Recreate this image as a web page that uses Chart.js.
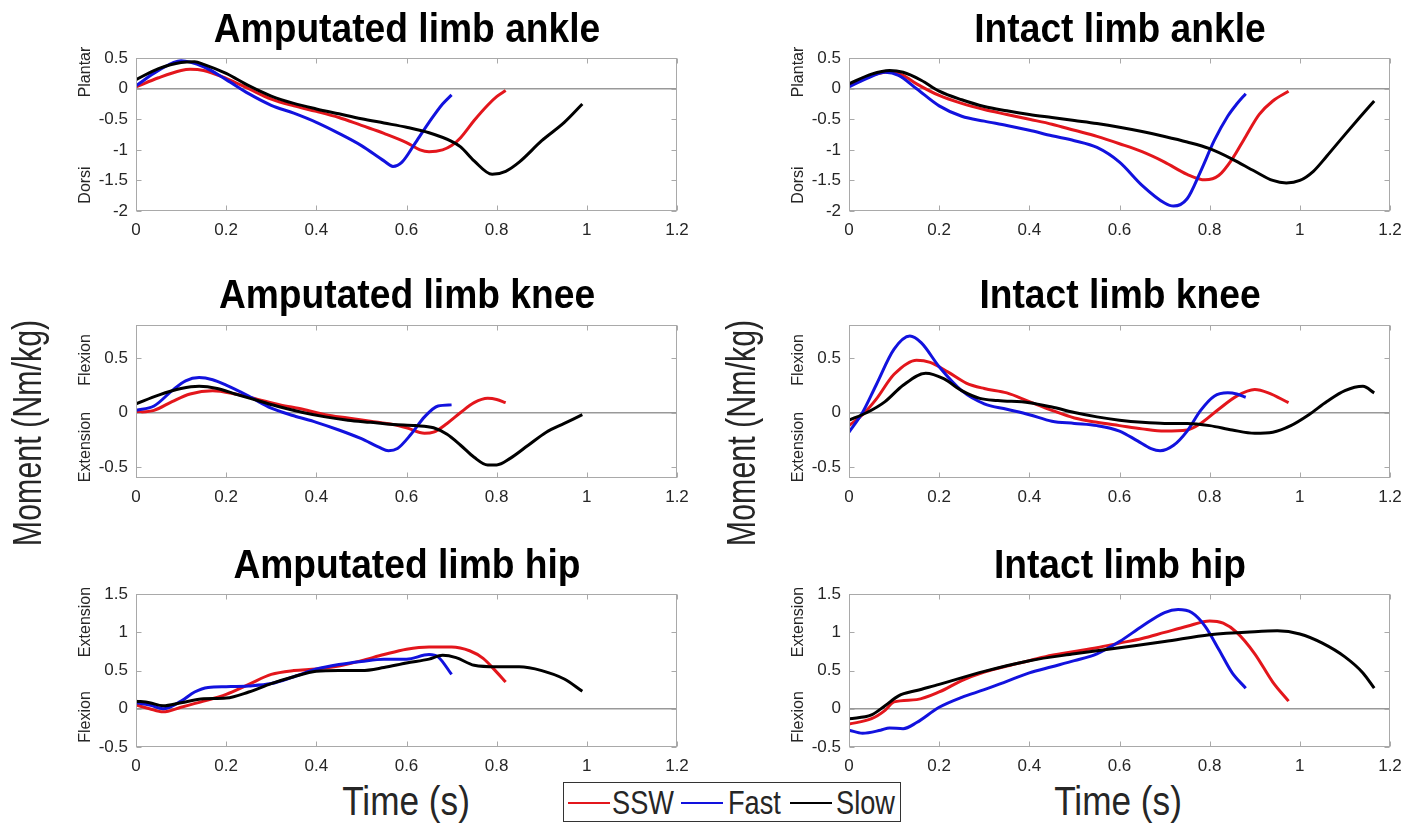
<!DOCTYPE html>
<html>
<head>
<meta charset="utf-8">
<script src="https://cdn.jsdelivr.net/npm/chart.js@4.4.0/dist/chart.umd.min.js"></script>
<style>
  body { margin: 0; background: #fff; width: 1419px; height: 825px; position: relative; overflow: hidden;
         font-family: "Liberation Sans", Arial, sans-serif; }
  .pane { position: absolute; }
  .ttl { position: absolute; font-weight: bold; font-size: 40px; line-height: 1; white-space: nowrap; color: #000;
         transform: translate(-50%, -50%) scaleX(0.93); }
  .side { position: absolute; font-size: 16px; line-height: 1; color: #262626; white-space: nowrap;
          transform: translate(-50%, -50%) rotate(-90deg); }
  .big { position: absolute; font-size: 40px; line-height: 1; color: #262626; white-space: nowrap;
         transform: translate(-50%, -50%) scaleX(0.88); }
  .big.rot { transform: translate(-50%, -50%) rotate(-90deg) scaleX(0.76); }
  #legend { position: absolute; left: 563px; top: 782px; width: 338px; height: 40px; border: 1px solid #333;
            background: #fff; box-sizing: border-box; }
  #legend .sw { position: absolute; top: 19px; width: 42px; height: 2px; }
  #legend .lt { position: absolute; top: 2px; font-size: 34px; line-height: 34px; color: #262626;
                white-space: nowrap; transform: scaleX(0.8); transform-origin: 0 50%; }
</style>
</head>
<body>
<div id="root"></div>
<div id="legend"></div>
<script>
// ---------- data (s, Nm/kg) ----------
const SERIES_NAMES = ["SSW", "Fast", "Slow"];
const SERIES_COLORS = ["#e3161c", "#1212de", "#000000"];

const X_TICKS = [0, 0.2, 0.4, 0.6, 0.8, 1, 1.2];
const ANKLE_Y_TICKS = [-2, -1.5, -1, -0.5, 0, 0.5];
const KNEE_Y_TICKS = [-0.5, 0, 0.5];
const HIP_Y_TICKS = [-0.5, 0, 0.5, 1, 1.5];

// Amputated limb ankle
const ampAnkleSswT = [0, 0.05, 0.1, 0.12, 0.15, 0.2, 0.25, 0.3, 0.35, 0.4, 0.45, 0.5, 0.55, 0.6, 0.63, 0.65, 0.68, 0.7, 0.72, 0.75, 0.78, 0.8, 0.82];
const ampAnkleSsw  = [0.03, 0.18, 0.3, 0.32, 0.3, 0.17, 0.0, -0.17, -0.28, -0.37, -0.47, -0.6, -0.73, -0.88, -1.0, -1.03, -1.0, -0.93, -0.8, -0.52, -0.27, -0.13, -0.03];
const ampAnkleFastT = [0, 0.05, 0.1, 0.15, 0.2, 0.25, 0.3, 0.35, 0.4, 0.45, 0.5, 0.55, 0.57, 0.59, 0.62, 0.65, 0.68, 0.7];
const ampAnkleFast  = [0.05, 0.3, 0.46, 0.36, 0.15, -0.08, -0.27, -0.4, -0.55, -0.73, -0.93, -1.18, -1.27, -1.2, -0.88, -0.55, -0.25, -0.1];
const ampAnkleSlowT = [0, 0.05, 0.1, 0.13, 0.15, 0.2, 0.25, 0.3, 0.35, 0.4, 0.45, 0.5, 0.55, 0.6, 0.65, 0.7, 0.72, 0.75, 0.79, 0.82, 0.85, 0.9, 0.95, 0.99];
const ampAnkleSlow  = [0.15, 0.33, 0.43, 0.44, 0.4, 0.25, 0.05, -0.12, -0.24, -0.33, -0.41, -0.49, -0.56, -0.63, -0.72, -0.86, -0.95, -1.18, -1.4, -1.35, -1.2, -0.85, -0.55, -0.25];

// Intact limb ankle
const intAnkleSswT = [0, 0.05, 0.09, 0.12, 0.15, 0.2, 0.25, 0.3, 0.35, 0.4, 0.45, 0.5, 0.55, 0.6, 0.65, 0.7, 0.75, 0.79, 0.82, 0.85, 0.88, 0.91, 0.94, 0.975];
const intAnkleSsw  = [0.06, 0.22, 0.28, 0.22, 0.08, -0.11, -0.24, -0.34, -0.42, -0.5, -0.58, -0.68, -0.78, -0.9, -1.03, -1.2, -1.4, -1.49, -1.42, -1.15, -0.78, -0.42, -0.2, -0.04];
const intAnkleFastT = [0, 0.04, 0.08, 0.11, 0.15, 0.2, 0.25, 0.3, 0.35, 0.4, 0.45, 0.5, 0.55, 0.6, 0.65, 0.7, 0.72, 0.75, 0.78, 0.81, 0.84, 0.86, 0.88];
const intAnkleFast  = [0.03, 0.17, 0.27, 0.22, 0.0, -0.28, -0.45, -0.53, -0.6, -0.68, -0.77, -0.85, -0.96, -1.2, -1.58, -1.87, -1.92, -1.8, -1.35, -0.85, -0.45, -0.25, -0.08];
const intAnkleSlowT = [0, 0.05, 0.09, 0.12, 0.16, 0.2, 0.25, 0.3, 0.35, 0.4, 0.45, 0.5, 0.55, 0.6, 0.65, 0.7, 0.75, 0.8, 0.85, 0.9, 0.94, 0.97, 1.0, 1.03, 1.06, 1.1, 1.135, 1.165];
const intAnkleSlow  = [0.08, 0.24, 0.3, 0.27, 0.14, -0.04, -0.18, -0.29, -0.36, -0.42, -0.47, -0.52, -0.57, -0.63, -0.7, -0.78, -0.87, -0.98, -1.15, -1.35, -1.5, -1.54, -1.5, -1.35, -1.1, -0.75, -0.45, -0.2];

// Amputated limb knee
const ampKneeSswT = [0, 0.04, 0.08, 0.12, 0.17, 0.22, 0.27, 0.32, 0.37, 0.42, 0.47, 0.52, 0.57, 0.6, 0.64, 0.66, 0.69, 0.72, 0.75, 0.78, 0.8, 0.82];
const ampKneeSsw  = [0.0, 0.02, 0.1, 0.17, 0.2, 0.17, 0.12, 0.07, 0.03, -0.02, -0.05, -0.08, -0.11, -0.14, -0.19, -0.18, -0.1, 0.0, 0.09, 0.13, 0.12, 0.09];
const ampKneeFastT = [0, 0.04, 0.08, 0.11, 0.14, 0.17, 0.2, 0.25, 0.3, 0.35, 0.4, 0.45, 0.5, 0.54, 0.56, 0.58, 0.61, 0.64, 0.67, 0.7];
const ampKneeFast  = [0.02, 0.06, 0.2, 0.29, 0.32, 0.3, 0.25, 0.15, 0.04, -0.03, -0.09, -0.16, -0.24, -0.32, -0.35, -0.33, -0.2, -0.04, 0.06, 0.07];
const ampKneeSlowT = [0, 0.05, 0.1, 0.14, 0.18, 0.22, 0.27, 0.32, 0.37, 0.42, 0.47, 0.52, 0.57, 0.62, 0.66, 0.69, 0.72, 0.75, 0.78, 0.8, 0.83, 0.87, 0.91, 0.95, 0.99];
const ampKneeSlow  = [0.08, 0.16, 0.22, 0.24, 0.22, 0.17, 0.11, 0.05, 0.0, -0.04, -0.07, -0.09, -0.11, -0.12, -0.14, -0.2, -0.3, -0.41, -0.48, -0.48, -0.42, -0.3, -0.18, -0.1, -0.02];

// Intact limb knee
const intKneeSswT = [0, 0.03, 0.06, 0.1, 0.15, 0.18, 0.22, 0.26, 0.3, 0.35, 0.4, 0.45, 0.5, 0.55, 0.6, 0.65, 0.7, 0.75, 0.78, 0.82, 0.86, 0.9, 0.93, 0.975];
const intKneeSsw  = [-0.12, -0.02, 0.12, 0.35, 0.48, 0.46, 0.37, 0.27, 0.22, 0.18, 0.1, 0.02, -0.05, -0.09, -0.12, -0.15, -0.17, -0.16, -0.1, 0.03, 0.15, 0.21, 0.18, 0.09];
const intKneeFastT = [0, 0.03, 0.06, 0.1, 0.135, 0.16, 0.2, 0.25, 0.3, 0.35, 0.4, 0.45, 0.5, 0.55, 0.6, 0.64, 0.67, 0.69, 0.72, 0.75, 0.78, 0.81, 0.84, 0.86, 0.88];
const intKneeFast  = [-0.18, 0.0, 0.25, 0.58, 0.7, 0.64, 0.42, 0.2, 0.08, 0.03, -0.02, -0.08, -0.1, -0.12, -0.17, -0.26, -0.33, -0.35, -0.3, -0.17, 0.02, 0.15, 0.18, 0.17, 0.14];
const intKneeSlowT = [0, 0.04, 0.08, 0.12, 0.17, 0.21, 0.25, 0.29, 0.33, 0.4, 0.45, 0.5, 0.55, 0.6, 0.65, 0.7, 0.75, 0.8, 0.85, 0.9, 0.94, 0.98, 1.02, 1.06, 1.1, 1.14, 1.165];
const intKneeSlow  = [-0.07, 0.0, 0.1, 0.25, 0.36, 0.31, 0.2, 0.13, 0.11, 0.09, 0.05, 0.0, -0.04, -0.07, -0.09, -0.1, -0.1, -0.12, -0.16, -0.19, -0.18, -0.12, -0.02, 0.1, 0.2, 0.24, 0.18];

// Amputated limb hip
const ampHipSswT = [0, 0.03, 0.06, 0.1, 0.15, 0.2, 0.25, 0.3, 0.35, 0.4, 0.45, 0.5, 0.55, 0.6, 0.65, 0.7, 0.74, 0.77, 0.8, 0.82];
const ampHipSsw  = [0.05, 0.0, -0.04, 0.02, 0.1, 0.19, 0.32, 0.45, 0.5, 0.52, 0.56, 0.63, 0.71, 0.78, 0.81, 0.81, 0.76, 0.66, 0.48, 0.35];
const ampHipFastT = [0, 0.03, 0.06, 0.1, 0.13, 0.16, 0.2, 0.25, 0.3, 0.35, 0.4, 0.45, 0.5, 0.55, 0.6, 0.65, 0.67, 0.7];
const ampHipFast  = [0.08, 0.05, 0.0, 0.1, 0.22, 0.28, 0.29, 0.3, 0.33, 0.42, 0.52, 0.58, 0.62, 0.65, 0.65, 0.71, 0.68, 0.45];
const ampHipSlowT = [0, 0.03, 0.06, 0.1, 0.15, 0.2, 0.25, 0.3, 0.35, 0.4, 0.45, 0.5, 0.55, 0.6, 0.65, 0.68, 0.71, 0.75, 0.8, 0.85, 0.9, 0.95, 0.99];
const ampHipSlow  = [0.1, 0.08, 0.04, 0.08, 0.13, 0.14, 0.22, 0.33, 0.42, 0.49, 0.5, 0.5, 0.54, 0.6, 0.65, 0.7, 0.67, 0.57, 0.55, 0.55, 0.5, 0.39, 0.23];

// Intact limb hip
const intHipSswT = [0, 0.05, 0.08, 0.1, 0.15, 0.2, 0.25, 0.3, 0.35, 0.4, 0.45, 0.5, 0.55, 0.6, 0.65, 0.7, 0.75, 0.8, 0.83, 0.86, 0.9, 0.94, 0.975];
const intHipSsw  = [-0.2, -0.13, -0.02, 0.09, 0.12, 0.22, 0.37, 0.48, 0.56, 0.63, 0.7, 0.75, 0.8, 0.86, 0.92, 1.0, 1.08, 1.15, 1.12, 1.0, 0.72, 0.35, 0.1];
const intHipFastT = [0, 0.03, 0.07, 0.09, 0.12, 0.15, 0.2, 0.25, 0.3, 0.35, 0.4, 0.45, 0.5, 0.55, 0.6, 0.65, 0.7, 0.73, 0.76, 0.79, 0.82, 0.85, 0.88];
const intHipFast  = [-0.28, -0.32, -0.28, -0.25, -0.26, -0.18, 0.02, 0.15, 0.25, 0.36, 0.47, 0.55, 0.63, 0.72, 0.88, 1.08, 1.26, 1.3, 1.26, 1.08, 0.78, 0.47, 0.27];
const intHipSlowT = [0, 0.05, 0.08, 0.11, 0.15, 0.2, 0.3, 0.4, 0.5, 0.6, 0.7, 0.8, 0.9, 0.95, 1.0, 1.05, 1.1, 1.14, 1.165];
const intHipSlow  = [-0.13, -0.08, 0.04, 0.17, 0.24, 0.32, 0.49, 0.63, 0.72, 0.8, 0.88, 0.97, 1.01, 1.02, 0.98, 0.86, 0.68, 0.47, 0.27];

// ---------- layout ----------
const AXIS_W = 56, AXIS_H = 32, PAD_T = 10, PAD_R = 24;
const PLOT_W = 541, PLOT_H = 161;
const COL_X = [136, 849];
const ROW_Y = [50, 317, 586];

const panels = [
  { col: 0, row: 0, title: "Amputated limb ankle", yMin: -2, yMax: 0.5, yTicks: ANKLE_Y_TICKS, side: ["Plantar", "Dorsi"],
    series: [[ampAnkleSswT, ampAnkleSsw], [ampAnkleFastT, ampAnkleFast], [ampAnkleSlowT, ampAnkleSlow]] },
  { col: 1, row: 0, title: "Intact limb ankle", yMin: -2, yMax: 0.5, yTicks: ANKLE_Y_TICKS, side: ["Plantar", "Dorsi"],
    series: [[intAnkleSswT, intAnkleSsw], [intAnkleFastT, intAnkleFast], [intAnkleSlowT, intAnkleSlow]] },
  { col: 0, row: 1, title: "Amputated limb knee", yMin: -0.6, yMax: 0.8, yTicks: KNEE_Y_TICKS, side: ["Flexion", "Extension"],
    series: [[ampKneeSswT, ampKneeSsw], [ampKneeFastT, ampKneeFast], [ampKneeSlowT, ampKneeSlow]] },
  { col: 1, row: 1, title: "Intact limb knee", yMin: -0.6, yMax: 0.8, yTicks: KNEE_Y_TICKS, side: ["Flexion", "Extension"],
    series: [[intKneeSswT, intKneeSsw], [intKneeFastT, intKneeFast], [intKneeSlowT, intKneeSlow]] },
  { col: 0, row: 2, title: "Amputated limb hip", yMin: -0.5, yMax: 1.5, yTicks: HIP_Y_TICKS, side: ["Extension", "Flexion"],
    series: [[ampHipSswT, ampHipSsw], [ampHipFastT, ampHipFast], [ampHipSlowT, ampHipSlow]] },
  { col: 1, row: 2, title: "Intact limb hip", yMin: -0.5, yMax: 1.5, yTicks: HIP_Y_TICKS, side: ["Extension", "Flexion"],
    series: [[intHipSswT, intHipSsw], [intHipFastT, intHipFast], [intHipSlowT, intHipSlow]] },
];

// where the two side words sit, relative to plot top
const SIDE_Y = [[22, 135], [43, 130], [36, 131]];
const TITLE_Y = [28, 294, 564];

// matlab-like box with inward ticks on all four sides
const axesBox = {
  id: "axesBox",
  afterDraw(chart) {
    const { ctx, chartArea: a, scales } = chart;
    ctx.save();
    ctx.strokeStyle = "#a9a9a9";
    ctx.lineWidth = 1;
    const L = Math.round(a.left) + 0.5, R = Math.round(a.right) - 0.5;
    const T = Math.round(a.top) + 0.5, B = Math.round(a.bottom) - 0.5;
    ctx.strokeRect(L, T, R - L, B - T);
    ctx.beginPath();
    scales.x.ticks.forEach((t) => {
      const px = Math.round(scales.x.getPixelForValue(t.value)) + 0.5;
      ctx.moveTo(px, B); ctx.lineTo(px, B - 5);
      ctx.moveTo(px, T); ctx.lineTo(px, T + 5);
    });
    scales.y.ticks.forEach((t) => {
      const py = Math.round(scales.y.getPixelForValue(t.value)) + 0.5;
      ctx.moveTo(L, py); ctx.lineTo(L + 5, py);
      ctx.moveTo(R, py); ctx.lineTo(R - 5, py);
    });
    ctx.stroke();
    ctx.restore();
  },
};

const root = document.getElementById("root");

function addText(cls, text, x, y, parent) {
  const d = document.createElement("div");
  d.className = cls;
  d.textContent = text;
  d.style.left = x + "px";
  d.style.top = y + "px";
  (parent || root).appendChild(d);
  return d;
}

panels.forEach((p) => {
  const plotL = COL_X[p.col], plotT = ROW_Y[p.row];
  const wrap = document.createElement("div");
  wrap.className = "pane";
  wrap.style.left = plotL - AXIS_W + "px";
  wrap.style.top = plotT - PAD_T + "px";
  const cv = document.createElement("canvas");
  cv.width = AXIS_W + PLOT_W + PAD_R;
  cv.height = PAD_T + PLOT_H + AXIS_H;
  wrap.appendChild(cv);
  root.appendChild(wrap);

  addText("ttl", p.title, plotL + PLOT_W / 2, TITLE_Y[p.row]);
  addText("side", p.side[0], plotL - 51, plotT + SIDE_Y[p.row][0]);
  addText("side", p.side[1], plotL - 51, plotT + SIDE_Y[p.row][1]);

  new Chart(cv, {
    type: "line",
    data: {
      datasets: p.series.map(([ts, vs], i) => ({
        label: SERIES_NAMES[i],
        data: ts.map((t, k) => ({ x: t, y: vs[k] })),
        borderColor: SERIES_COLORS[i],
        borderWidth: 3,
        pointRadius: 0,
        fill: false,
        cubicInterpolationMode: "monotone",
        order: 3 - i,
      })),
    },
    options: {
      responsive: false,
      animation: false,
      layout: { padding: { top: PAD_T, right: PAD_R, left: 0, bottom: 0 } },
      plugins: { legend: { display: false }, tooltip: { enabled: false } },
      scales: {
        x: {
          type: "linear", min: 0, max: 1.2,
          afterBuildTicks: (s) => { s.ticks = X_TICKS.map((v) => ({ value: v })); },
          afterFit: (s) => { s.height = AXIS_H; },
          grid: { display: false, drawTicks: false },
          border: { display: false },
          ticks: { color: "#262626", font: { family: "Liberation Sans", size: 17 }, padding: 9,
                   maxRotation: 0, autoSkip: false, callback: (v) => String(v) },
        },
        y: {
          type: "linear", min: p.yMin, max: p.yMax,
          afterBuildTicks: (s) => { s.ticks = p.yTicks.map((v) => ({ value: v })); },
          afterFit: (s) => { s.width = AXIS_W; },
          grid: { drawTicks: false, lineWidth: 1.5,
                  color: (c) => (c.tick && c.tick.value === 0 ? "#999999" : "rgba(0,0,0,0)") },
          border: { display: false },
          ticks: { color: "#262626", font: { family: "Liberation Sans", size: 17 }, padding: 8,
                   autoSkip: false, callback: (v) => String(v) },
        },
      },
    },
    plugins: [axesBox],
  });
});

// shared labels
addText("big rot", "Moment (Nm/kg)", 27, 433);
addText("big rot", "Moment (Nm/kg)", 741, 433);
addText("big", "Time (s)", 406, 801);
addText("big", "Time (s)", 1118, 801);

// legend: line swatch + label for each walking speed
const LEGEND_LINE_X = [4, 117, 226];
const LEGEND_TEXT_X = [48, 164, 272];
const legend = document.getElementById("legend");
SERIES_NAMES.forEach((name, i) => {
  const sw = document.createElement("span");
  sw.className = "sw";
  sw.style.left = LEGEND_LINE_X[i] + "px";
  sw.style.background = SERIES_COLORS[i];
  legend.appendChild(sw);
  const lt = document.createElement("span");
  lt.className = "lt";
  lt.style.left = LEGEND_TEXT_X[i] + "px";
  lt.textContent = name;
  legend.appendChild(lt);
});
</script>
</body>
</html>
